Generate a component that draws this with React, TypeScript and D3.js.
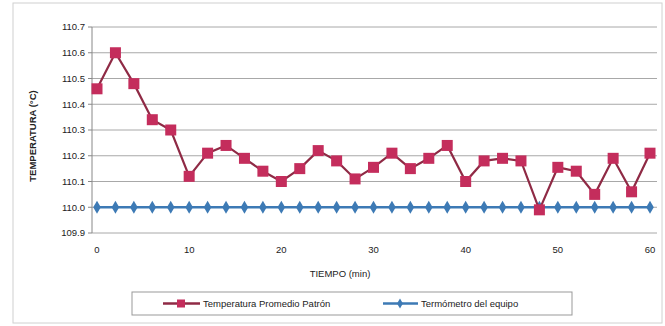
import React from "react";
import * as d3 from "d3";

const times = [0, 2, 4, 6, 8, 10, 12, 14, 16, 18, 20, 22, 24, 26, 28, 30, 32, 34, 36, 38, 40, 42, 44, 46, 48, 50, 52, 54, 56, 58, 60];
const patron = [110.46, 110.6, 110.48, 110.34, 110.3, 110.12, 110.21, 110.24, 110.19, 110.14, 110.1, 110.15, 110.22, 110.18, 110.11, 110.155, 110.21, 110.15, 110.19, 110.24, 110.1, 110.18, 110.19, 110.18, 109.99, 110.155, 110.14, 110.05, 110.19, 110.06, 110.21];
const equipo = [110.0, 110.0, 110.0, 110.0, 110.0, 110.0, 110.0, 110.0, 110.0, 110.0, 110.0, 110.0, 110.0, 110.0, 110.0, 110.0, 110.0, 110.0, 110.0, 110.0, 110.0, 110.0, 110.0, 110.0, 110.0, 110.0, 110.0, 110.0, 110.0, 110.0, 110.0];
const yTicks = [109.9, 110.0, 110.1, 110.2, 110.3, 110.4, 110.5, 110.6, 110.7];
const xTicks = [0, 10, 20, 30, 40, 50, 60];
const seriesNames = ["Temperatura Promedio Patrón", "Termómetro del equipo"];

const W = 665, H = 326;
const plotL = 92, plotR = 657, plotT = 27, plotB = 233;

export default function App() {
  const x = d3.scaleLinear().domain([0, 60]).range([97, 650]);
  const y = d3.scaleLinear().domain([109.9, 110.7]).range([plotB, plotT]);
  const line = d3.line<[number, number]>().x(d => x(d[0])).y(d => y(d[1]));
  const pPts: [number, number][] = times.map((t, i) => [t, patron[i]]);
  const ePts: [number, number][] = times.map((t, i) => [t, equipo[i]]);
  const red = "#c42d5c";
  const redLine = "#8f2a45";
  const blue = "#3d7ab5";
  const font = "'Liberation Sans', Arial, sans-serif";
  return (
    <svg width={W} height={H} style={{ position: "absolute", left: 0, top: 0, background: "#fff" }} fontFamily={font}>
      <rect x={13} y={3} width={649} height={320} fill="#fff" stroke="#d0d0d0" strokeWidth={1} />
      {yTicks.map(v => (
        <g key={v}>
          <line x1={plotL} x2={plotR} y1={y(v)} y2={y(v)} stroke="#a8a8a8" strokeWidth={1} />
          <line x1={plotL - 4} x2={plotL} y1={y(v)} y2={y(v)} stroke="#888" />
          <text x={85} y={y(v)} dy="0.35em" textAnchor="end" fontSize={9.5} fill="#222">{v.toFixed(1)}</text>
        </g>
      ))}
      <line x1={plotL} x2={plotL} y1={plotT} y2={plotB} stroke="#888" />
      {xTicks.map(v => (
        <text key={v} x={x(v)} y={253} textAnchor="middle" fontSize={9.5} fill="#222">{v}</text>
      ))}
      <text x={340} y={277} textAnchor="middle" fontSize={9.5} fill="#222">TIEMPO (min)</text>
      <text transform={`translate(36,${(plotT + plotB) / 2 + 6}) rotate(-90)`} textAnchor="middle" fontSize={9.5} fontWeight="bold" fill="#222">TEMPERATURA (°C)</text>

      <path d={line(ePts) || ""} fill="none" stroke={blue} strokeWidth={2.5} />
      {ePts.map((p, i) => (
        <path key={i} d={d3.symbol(d3.symbolDiamond, 50)() || ""} transform={`translate(${x(p[0])},${y(p[1])})`} fill={blue} />
      ))}
      <path d={line(pPts) || ""} fill="none" stroke={redLine} strokeWidth={2.2} />
      {pPts.map((p, i) => (
        <rect key={i} x={x(p[0]) - 5.5} y={y(p[1]) - 5.5} width={11} height={11} fill={red} />
      ))}

      <rect x={132} y={292} width={440} height={23} fill="#fff" stroke="#999" />
      <line x1={163} x2={200} y1={303.5} y2={303.5} stroke={redLine} strokeWidth={2.5} />
      <rect x={177} y={299.5} width={8} height={8} fill={red} />
      <text x={203} y={303.5} dy="0.35em" fontSize={9.5} fill="#222">{seriesNames[0]}</text>
      <line x1={383} x2={418} y1={303.5} y2={303.5} stroke={blue} strokeWidth={2.5} />
      <path d={d3.symbol(d3.symbolDiamond, 30)() || ""} transform="translate(400,303.5)" fill={blue} />
      <text x={421} y={303.5} dy="0.35em" fontSize={9.5} fill="#222">{seriesNames[1]}</text>
    </svg>
  );
}
